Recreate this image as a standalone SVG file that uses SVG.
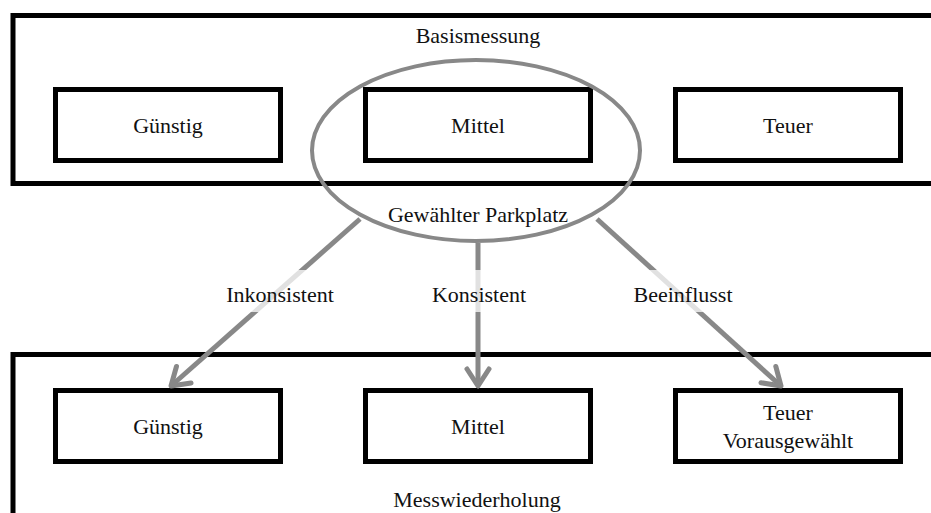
<svg xmlns="http://www.w3.org/2000/svg" width="931" height="513" viewBox="0 0 931 513">
<style>
.frame{fill:none;stroke:#000;stroke-width:5}
.box{fill:#fff;stroke:#000;stroke-width:5}
.t{font-family:"Liberation Serif","Times New Roman",serif;font-size:22px;fill:#111;text-anchor:middle}
.conn{stroke:#888;stroke-width:5;fill:none}
.lbg{fill:#fff;fill-opacity:0.75}
</style>
<defs>
<marker id="ah" markerUnits="userSpaceOnUse" viewBox="-25 -15 30 30" markerWidth="30" markerHeight="30" refX="0" refY="0" orient="auto" overflow="visible">
<path d="M-17,-11 L0,0 L-17,11" fill="none" stroke="#888" stroke-width="5" stroke-linejoin="round" stroke-linecap="round"/>
</marker>
</defs>
<rect id="frame-basis" class="frame" x="13" y="15.5" width="940" height="168"/>
<rect id="frame-wdh" class="frame" x="13" y="354.5" width="940" height="200"/>
<text class="t" x="478" y="43">Basismessung</text>
<text class="t" x="477" y="507">Messwiederholung</text>
<g id="n-top-guenstig"><rect class="box" x="55.5" y="89.5" width="225" height="71"/><text class="t" x="168" y="133">Günstig</text></g>
<g id="n-top-mittel"><rect class="box" x="365.5" y="89.5" width="225" height="71"/><text class="t" x="478" y="133">Mittel</text></g>
<g id="n-top-teuer"><rect class="box" x="675.5" y="89.5" width="225" height="71"/><text class="t" x="788" y="133">Teuer</text></g>
<g id="n-gewaehlt"><ellipse cx="476" cy="150.5" rx="164" ry="90.5" fill="none" stroke="#888" stroke-width="4"/><text class="t" x="478" y="222">Gewählter Parkplatz</text></g>
<g id="n-bot-guenstig"><rect class="box" x="55.5" y="390.5" width="225" height="71"/><text class="t" x="168" y="434">Günstig</text></g>
<g id="n-bot-mittel"><rect class="box" x="365.5" y="390.5" width="225" height="71"/><text class="t" x="478" y="434">Mittel</text></g>
<g id="n-bot-teuer"><rect class="box" x="675.5" y="390.5" width="225" height="71"/><text class="t" x="788" y="420">Teuer</text><text class="t" x="788" y="448">Vorausgewählt</text></g>
<g id="connectors">
<line class="conn" x1="360" y1="219" x2="171" y2="386" marker-end="url(#ah)"/>
<line class="conn" x1="478" y1="243" x2="478" y2="386" marker-end="url(#ah)"/>
<line class="conn" x1="597" y1="219" x2="781" y2="386" marker-end="url(#ah)"/>
<rect class="lbg" x="211" y="270" width="139" height="42"/>
<text class="t" x="280" y="302">Inkonsistent</text>
<rect class="lbg" x="417" y="270" width="124" height="42"/>
<text class="t" x="479" y="302">Konsistent</text>
<rect class="lbg" x="618" y="270" width="130" height="42"/>
<text class="t" x="683" y="302">Beeinflusst</text>
</g>
</svg>
